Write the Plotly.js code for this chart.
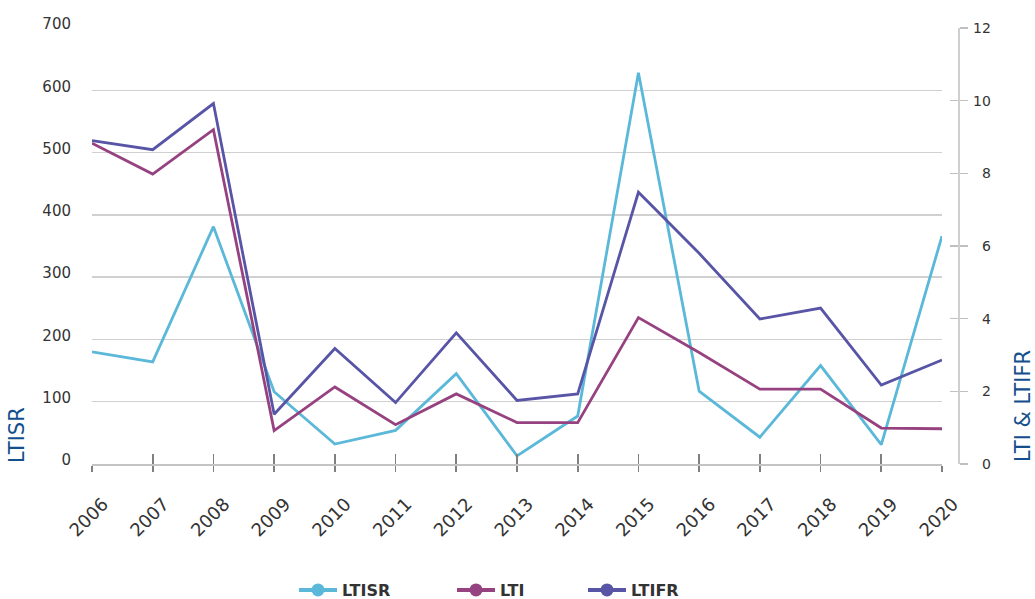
<!DOCTYPE html>
<html>
<head>
<meta charset="utf-8">
<script src="https://cdn.plot.ly/plotly-3.0.1.min.js"></script>
<style>html,body{margin:0;padding:0;background:#fff}#chart{width:1035px;height:599px}</style>
</head>
<body>
<div id="chart"></div>
<script>
const years = [2006, 2007, 2008, 2009, 2010, 2011, 2012, 2013, 2014, 2015, 2016, 2017, 2018, 2019, 2020];
const ltisr = [180, 164, 381, 116, 32, 54, 145, 13, 77, 628, 117, 43, 158, 31, 366];
const lti   = [8.83, 7.98, 9.20, 0.92, 2.12, 1.08, 1.93, 1.14, 1.14, 4.03, 3.07, 2.06, 2.06, 0.99, 0.97];
const ltifr = [8.90, 8.65, 9.92, 1.37, 3.18, 1.69, 3.61, 1.75, 1.93, 7.48, 5.80, 3.99, 4.29, 2.17, 2.86];
const leftTicks = [0, 100, 200, 300, 400, 500, 600, 700];
const rightTicks = [0, 2, 4, 6, 8, 10, 12];
const seriesNames = ['LTISR', 'LTI', 'LTIFR'];
const colors = ['#5bb8d9', '#974280', '#5854a6'];

const FONT = 'DejaVu Sans, Verdana, sans-serif';
const lineW = 2.8;

const traces = [
  {x: years, y: ltisr, yaxis: 'y', mode: 'lines', line: {color: colors[0], width: lineW}, showlegend: false, hoverinfo: 'skip'},
  {x: years, y: lti, yaxis: 'y2', mode: 'lines', line: {color: colors[1], width: lineW}, showlegend: false, hoverinfo: 'skip'},
  {x: years, y: ltifr, yaxis: 'y2', mode: 'lines', line: {color: colors[2], width: lineW}, showlegend: false, hoverinfo: 'skip'},
  // legend entries
  {x: [null], y: [null], name: seriesNames[0], mode: 'lines+markers', line: {color: colors[0], width: 4}, marker: {size: 13, color: colors[0]}, legend: 'legend'},
  {x: [null], y: [null], name: seriesNames[1], mode: 'lines+markers', line: {color: colors[1], width: 4}, marker: {size: 13, color: colors[1]}, legend: 'legend2'},
  {x: [null], y: [null], name: seriesNames[2], mode: 'lines+markers', line: {color: colors[2], width: 4}, marker: {size: 13, color: colors[2]}, legend: 'legend3'},
  // helpers to draw crossing ticks / shifted right axis line
  {x: [null], y: [null], xaxis: 'x2', yaxis: 'y', showlegend: false, hoverinfo: 'skip'},
  {x: [null], y: [null], yaxis: 'y3', showlegend: false, hoverinfo: 'skip'},
  {x: [null], y: [null], yaxis: 'y4', showlegend: false, hoverinfo: 'skip'}
];

const legendBase = {
  orientation: 'h', xref: 'container', yref: 'container', yanchor: 'middle', y: 1 - 590 / 599,
  xanchor: 'left', font: {family: FONT, size: 16, color: '#333', weight: 'bold'}, itemwidth: 38,
  bgcolor: 'rgba(0,0,0,0)', borderwidth: 0
};

const rightTickText = rightTicks.map(v => (v < 10 ? '\u2007' : '') + v);

const layout = {
  width: 1035, height: 599,
  margin: {l: 92, r: 93, t: 28, b: 135},
  paper_bgcolor: '#fff', plot_bgcolor: '#fff',
  font: {family: FONT, color: '#333'},
  xaxis: {
    type: 'linear', range: [2006, 2020], tickvals: years, ticktext: years.map(String),
    tickangle: -45, tickfont: {size: 18, color: '#333', family: FONT},
    showgrid: false, zeroline: false, showline: true, linecolor: '#c4c4c4', linewidth: 1.5,
    ticks: 'outside', ticklen: 6, tickwidth: 1.8, tickcolor: '#808080', fixedrange: true,
    ticklabelstandoff: 15, ticklabelshift: 11
  },
  xaxis2: {
    type: 'linear', range: [2006, 2020], tickvals: years, overlaying: 'x', anchor: 'y',
    showticklabels: false, showgrid: false, zeroline: false, showline: false,
    ticks: 'inside', ticklen: 10, tickwidth: 1.8, tickcolor: '#808080'
  },
  yaxis: {
    range: [0, 700], tickvals: leftTicks, ticks: '', showline: false, zeroline: false,
    showgrid: true, gridcolor: '#d0d0d0', gridwidth: 1.5,
    tickfont: {size: 15, color: '#333', family: FONT}, ticklabelstandoff: 20, ticklabelshift: -4
  },
  yaxis2: {
    range: [0, 12], tickvals: rightTicks, ticktext: rightTickText, overlaying: 'y', side: 'right',
    anchor: 'x', showgrid: false, zeroline: false, showline: false, ticks: '',
    tickfont: {size: 14, color: '#333', family: FONT}, ticklabelstandoff: 30
  },
  yaxis3: {
    range: [0, 12], tickvals: rightTicks, overlaying: 'y', side: 'right',
    anchor: 'free', position: 1, shift: 16, showgrid: false, zeroline: false,
    showline: true, linecolor: '#cfcfcf', linewidth: 1.5, showticklabels: false,
    ticks: 'outside', ticklen: 8, tickwidth: 1.5, tickcolor: '#c0c0c0'
  },
  yaxis4: {
    range: [0, 12], tickvals: rightTicks, overlaying: 'y', side: 'right',
    anchor: 'free', position: 1, shift: 16, showgrid: false, zeroline: false,
    showline: false, showticklabels: false,
    ticks: 'inside', ticklen: 8, tickwidth: 1.5, tickcolor: '#c0c0c0'
  },
  legend: Object.assign({}, legendBase, {x: 294 / 1035}),
  legend2: Object.assign({}, legendBase, {x: 452 / 1035}),
  legend3: Object.assign({}, legendBase, {x: 583 / 1035}),
  annotations: [
    {text: 'LTISR', xref: 'paper', yref: 'paper', x: (17 - 92) / 850, y: (464 - 465) / 436,
     xanchor: 'center', yanchor: 'bottom', textangle: -90, showarrow: false,
     font: {family: FONT, size: 21, color: '#134f8d'}},
    {text: 'LTI &amp; LTIFR', xref: 'paper', yref: 'paper', x: (1023 - 92) / 850, y: (464 - 464) / 436,
     xanchor: 'center', yanchor: 'bottom', textangle: -90, showarrow: false,
     font: {family: FONT, size: 21, color: '#134f8d'}}
  ],
  showlegend: true
};

Plotly.newPlot('chart', traces, layout, {displayModeBar: false, staticPlot: true});
</script>
</body>
</html>
